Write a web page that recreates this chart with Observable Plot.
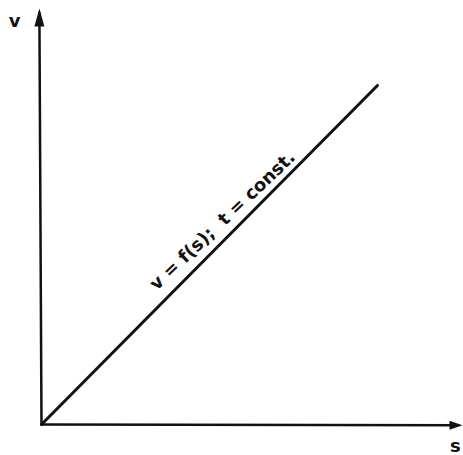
<!DOCTYPE html>
<html>
<head>
<meta charset="utf-8">
<script src="https://cdn.jsdelivr.net/npm/d3@7"></script>
<script src="https://cdn.jsdelivr.net/npm/@observablehq/plot@0.6"></script>
<style>
  html, body { margin: 0; padding: 0; background: #fff; }
</style>
</head>
<body>
<div id="chart"></div>
<script>
// Data (arbitrary units, origin at 0,0)
const lineS = [0, 7.98];
const lineV = [0, 8.15];
const vAxisS = [0, -0.05];
const vAxisV = [0, 9.9];
const sAxisS = [0, 9.9];
const sAxisV = [0, -0.02];
const headS = [-0.05, 10];   // arrow tips: v-axis, s-axis
const headV = [10, -0.02];
const headRot = [0, 90];
const labelText = "v = f(s);  t = const.";
const labelS = 4.3;
const labelV = 4.9;
const axisNames = ["v", "s"];
const axisNameS = [-0.64, 9.83];
const axisNameV = [9.7, -0.52];

const lineData = lineS.map((s, i) => ({s, v: lineV[i]}));
const vAxis = vAxisS.map((s, i) => ({s, v: vAxisV[i]}));
const sAxis = sAxisS.map((s, i) => ({s, v: sAxisV[i]}));
const heads = headS.map((s, i) => ({s, v: headV[i], rot: headRot[i]}));
const names = axisNames.map((t, i) => ({t, s: axisNameS[i], v: axisNameV[i]}));

const vHead = {draw(ctx) { ctx.moveTo(0, 0); ctx.lineTo(5, 18); ctx.lineTo(-5, 18); ctx.closePath(); }};
const sHead = {draw(ctx) { ctx.moveTo(0, 0); ctx.lineTo(4.5, 13); ctx.lineTo(-4.5, 13); ctx.closePath(); }};

const chart = Plot.plot({
  width: 463,
  height: 455,
  marginLeft: 41,
  marginRight: 1,
  marginTop: 8,
  marginBottom: 31,
  x: {domain: [0, 10], axis: null},
  y: {domain: [0, 10], axis: null},
  style: {background: "#fff", overflow: "visible"},
  marks: [
    Plot.line(vAxis, {x: "s", y: "v", stroke: "#111", strokeWidth: 2.5, strokeLinecap: "round"}),
    Plot.line(sAxis, {x: "s", y: "v", stroke: "#111", strokeWidth: 2.5, strokeLinecap: "round"}),
    Plot.dot(heads.slice(0, 1), {x: "s", y: "v", symbol: vHead, fill: "#111", stroke: "none", rotate: "rot"}),
    Plot.dot(heads.slice(1), {x: "s", y: "v", symbol: sHead, fill: "#111", stroke: "none", rotate: "rot"}),
    Plot.line(lineData, {x: "s", y: "v", stroke: "#111", strokeWidth: 3, strokeLinecap: "round"}),
    Plot.text([labelText], {x: () => labelS, y: () => labelV, text: d => d, rotate: -43.5,
      fontSize: 18, fontWeight: "bold", fontFamily: "DejaVu Sans", fill: "#111"}),
    Plot.text(names, {x: "s", y: "v", text: "t", fontSize: 18, fontWeight: "bold",
      fontFamily: "DejaVu Sans", fill: "#111"})
  ]
});
document.getElementById("chart").appendChild(chart);
</script>
</body>
</html>
